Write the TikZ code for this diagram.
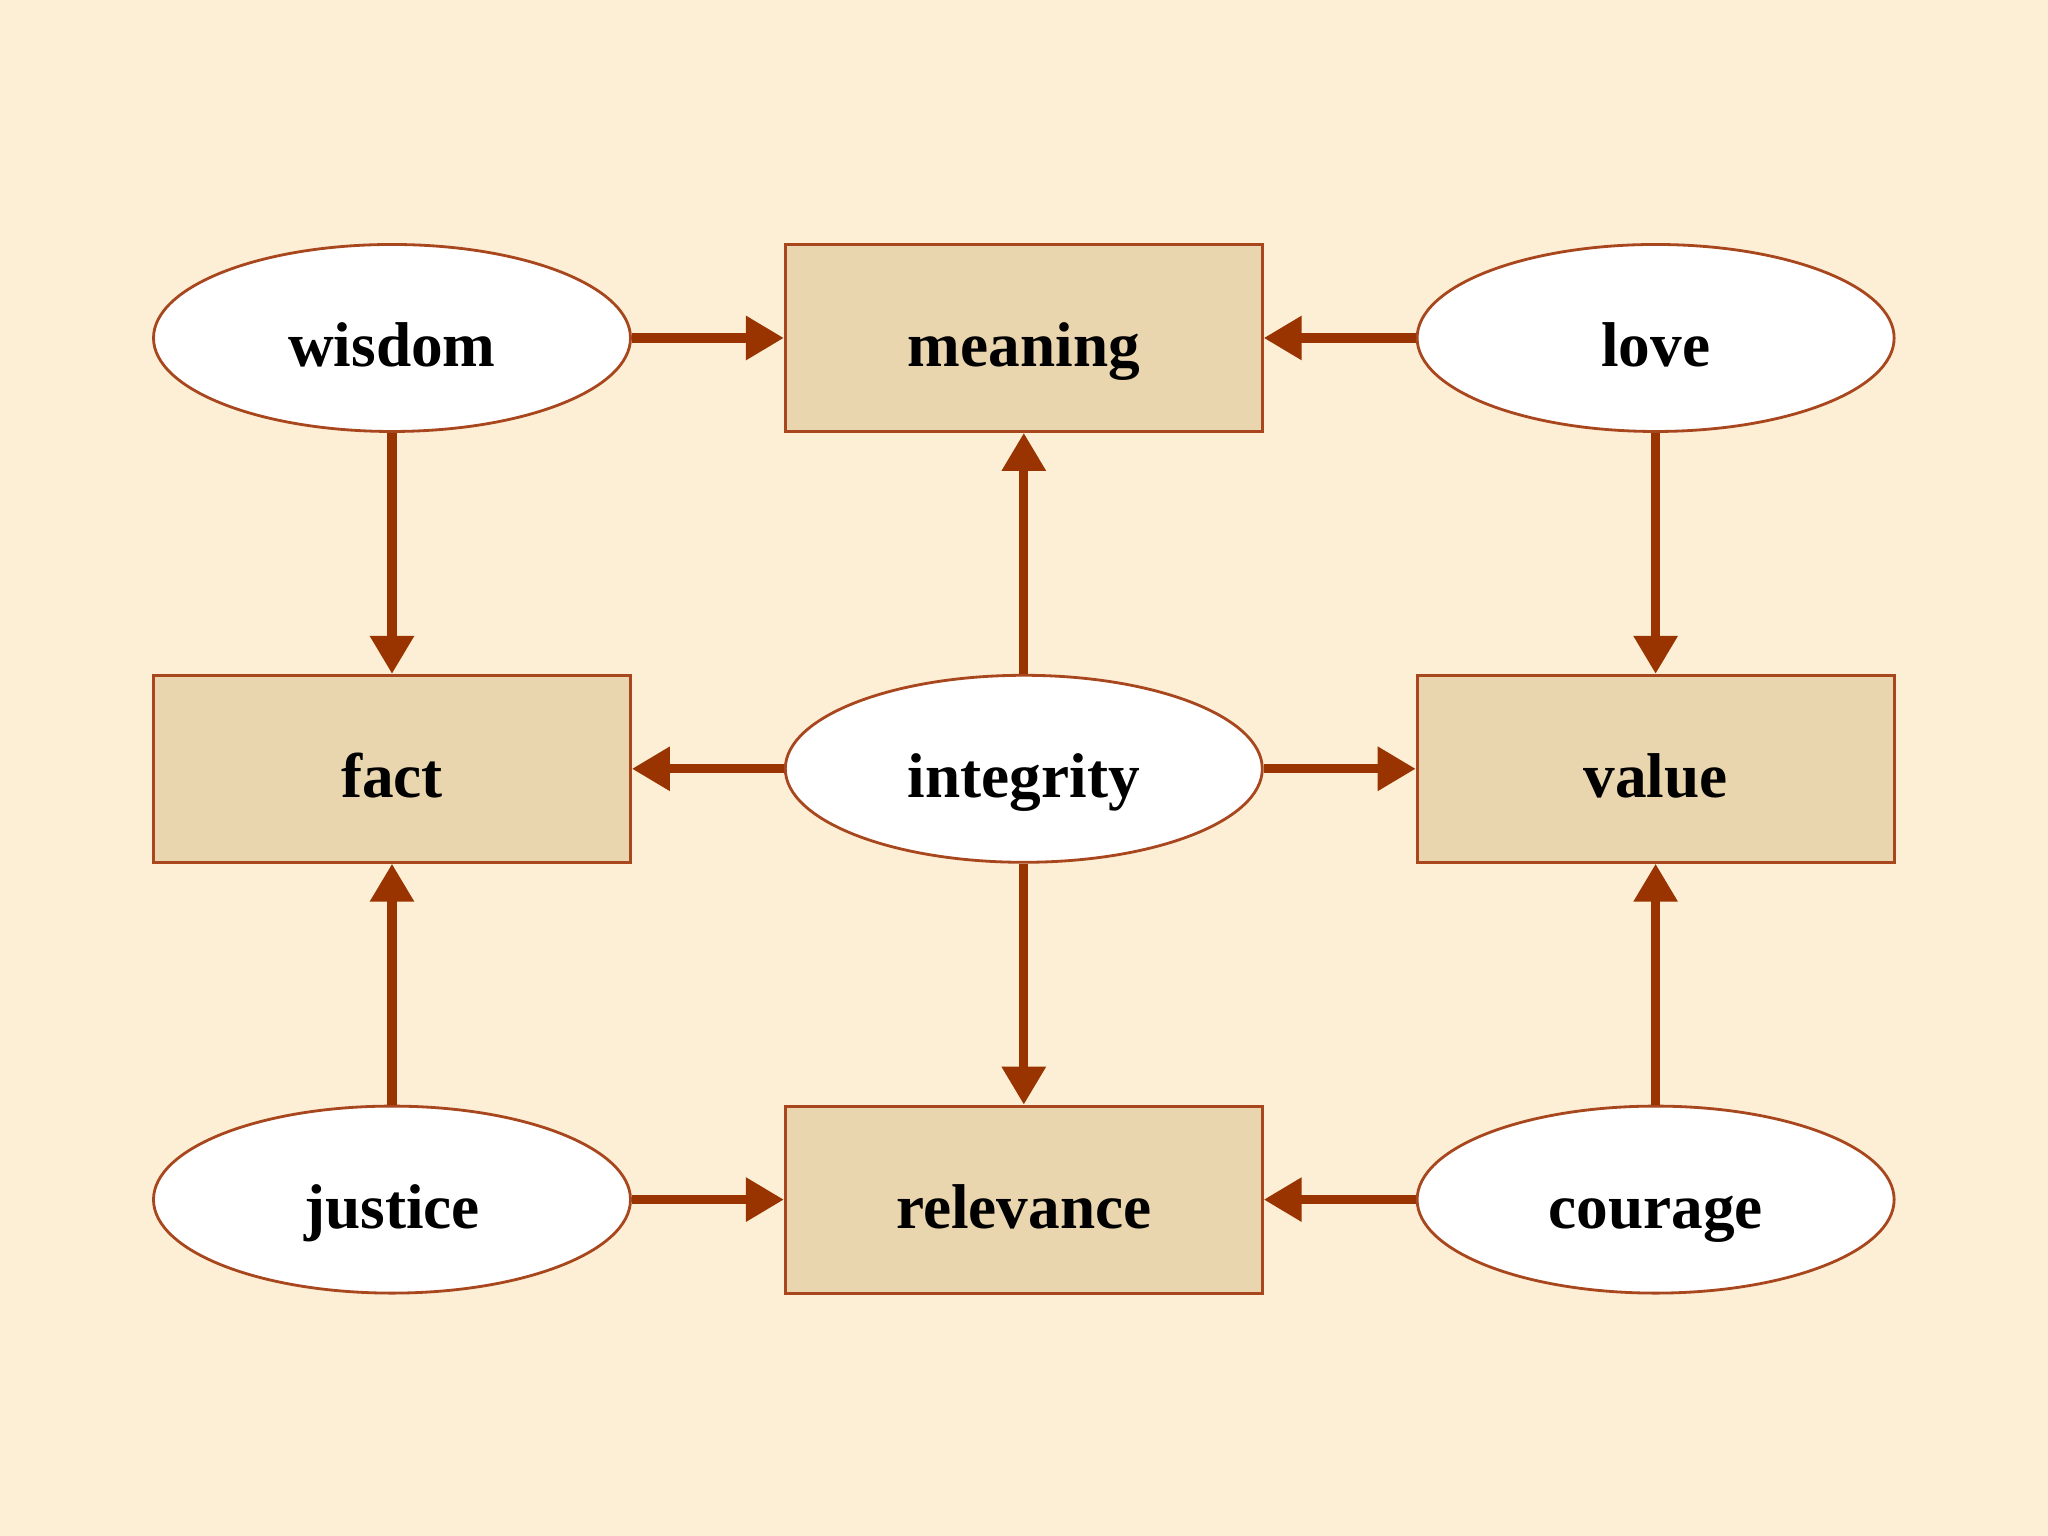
\documentclass[tikz,border=0pt]{standalone}
\usepackage{fontspec}
\setmainfont{Liberation Serif}
\usetikzlibrary{positioning,shapes.geometric,arrows.meta}
\definecolor{paper}{HTML}{FCEFD6}
\definecolor{rust}{HTML}{993300}
\definecolor{edge}{HTML}{A8461E}
\definecolor{tan}{HTML}{EAD6AE}
\begin{document}
\begin{tikzpicture}[
  virtue/.style={ellipse, draw=edge, line width=0.8pt, fill=white, minimum width=4.77cm, minimum height=1.87cm, text height=16.5pt, text depth=0pt, font=\fontsize{18}{20}\selectfont\bfseries},
  concept/.style={rectangle, draw=edge, line width=0.8pt, fill=tan, minimum width=4.77cm, minimum height=1.87cm, text height=16.5pt, text depth=0pt, font=\fontsize{18}{20}\selectfont\bfseries},
  link/.style={rust, line width=2.6pt, -{Triangle[length=0.38cm,width=0.42cm]}},
  node distance=2.41cm and 1.52cm
]
\fill[paper] (0,0) rectangle (20.48,15.36);
\useasboundingbox (0,0) rectangle (20.48,15.36);

\node[virtue] (wisdom) at (3.92,11.98) {wisdom};
\node[concept, right=of wisdom] (meaning) {meaning};
\node[virtue, right=of meaning] (love) {love};
\node[concept, below=of wisdom] (fact) {fact};
\node[virtue, right=of fact] (integrity) {integrity};
\node[concept, right=of integrity] (value) {value};
\node[virtue, below=of fact] (justice) {justice};
\node[concept, right=of justice] (relevance) {relevance};
\node[virtue, right=of relevance] (courage) {courage};

% Arrows
\draw[link] (wisdom) -- (meaning);
\draw[link] (love) -- (meaning);
\draw[link] (wisdom) -- (fact);
\draw[link] (love) -- (value);
\draw[link] (integrity) -- (meaning);
\draw[link] (integrity) -- (fact);
\draw[link] (integrity) -- (value);
\draw[link] (integrity) -- (relevance);
\draw[link] (justice) -- (fact);
\draw[link] (justice) -- (relevance);
\draw[link] (courage) -- (relevance);
\draw[link] (courage) -- (value);
\end{tikzpicture}
\end{document}
